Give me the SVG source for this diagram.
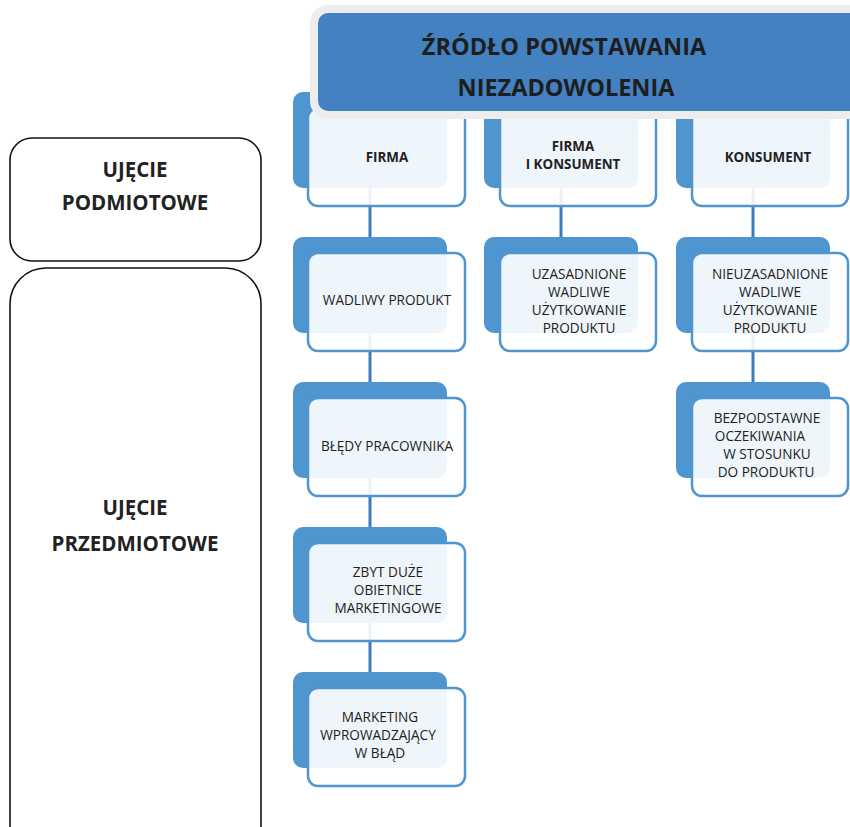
<svg xmlns="http://www.w3.org/2000/svg" width="850" height="827" viewBox="0 0 850 827">
  <style>
    .back { fill: #4F95D0; }
    .front { fill: #FFFFFF; fill-opacity: 0.9; stroke: #4F95D0; stroke-width: 2.5; }
    .link { stroke: #3D7BBA; stroke-width: 3; fill: none; }
    .lbl { font-family: "Open Sans", "Liberation Sans", sans-serif; font-size: 13.6px; fill: #222; text-anchor: middle; }
    .head { font-weight: bold; font-size: 13.4px; }
    .side { fill: #FFFFFF; stroke: #111; stroke-width: 1.6; }
    .sidetxt { font-family: "Open Sans", "Liberation Sans", sans-serif; font-weight: bold; font-size: 20.5px; fill: #222; text-anchor: middle; }
    .title { font-family: "Open Sans", "Liberation Sans", sans-serif; font-weight: bold; font-size: 23.5px; fill: #1E1E1E; text-anchor: middle; }
  </style>
  <defs>
    <rect id="bk" class="back" width="154" height="96" rx="10"/>
  </defs>

  <!-- side category boxes -->
  <g id="podmiotowe">
    <rect class="side" x="10" y="138" width="251" height="123" rx="22"/>
    <text class="sidetxt" x="135" y="177">UJĘCIE</text>
    <text class="sidetxt" x="135" y="210">PODMIOTOWE</text>
  </g>
  <g id="przedmiotowe">
    <rect class="side" x="10" y="268" width="251" height="600" rx="36"/>
    <text class="sidetxt" x="135" y="515">UJĘCIE</text>
    <text class="sidetxt" x="135" y="551">PRZEDMIOTOWE</text>
  </g>

  <!-- back plates of every card -->
  <g id="plates">
    <use href="#bk" x="293" y="92"/>
    <use href="#bk" x="484" y="92"/>
    <use href="#bk" x="676" y="92"/>
    <use href="#bk" x="293" y="237"/>
    <use href="#bk" x="484" y="237"/>
    <use href="#bk" x="676" y="237"/>
    <use href="#bk" x="293" y="382"/>
    <use href="#bk" x="676" y="382"/>
    <use href="#bk" x="293" y="527"/>
    <use href="#bk" x="293" y="672"/>
  </g>

  <!-- connectors -->
  <g id="connectors">
    <line class="link" x1="370" y1="188" x2="370" y2="237"/>
    <line class="link" x1="370" y1="333" x2="370" y2="382"/>
    <line class="link" x1="370" y1="478" x2="370" y2="527"/>
    <line class="link" x1="370" y1="623" x2="370" y2="672"/>
    <line class="link" x1="561" y1="188" x2="561" y2="237"/>
    <line class="link" x1="753" y1="188" x2="753" y2="237"/>
    <line class="link" x1="753" y1="333" x2="753" y2="382"/>
  </g>

  <!-- column 1 -->
  <g id="firma">
    <rect class="front" x="308" y="108" width="157" height="98" rx="10"/>
    <text class="lbl head" x="387" y="162">FIRMA</text>
  </g>
  <g id="wadliwy-produkt">
    <rect class="front" x="308" y="253" width="157" height="98" rx="10"/>
    <text class="lbl" x="387" y="305">WADLIWY PRODUKT</text>
  </g>
  <g id="bledy-pracownika">
    <rect class="front" x="308" y="398" width="157" height="98" rx="10"/>
    <text class="lbl" x="387" y="451">BŁĘDY PRACOWNIKA</text>
  </g>
  <g id="obietnice">
    <rect class="front" x="308" y="543" width="157" height="98" rx="10"/>
    <text class="lbl" x="388" y="577">ZBYT DUŻE</text>
    <text class="lbl" x="388" y="595">OBIETNICE</text>
    <text class="lbl" x="388" y="613">MARKETINGOWE</text>
  </g>
  <g id="marketing">
    <rect class="front" x="308" y="688" width="157" height="98" rx="10"/>
    <text class="lbl" x="380" y="722">MARKETING</text>
    <text class="lbl" x="378" y="740">WPROWADZAJĄCY</text>
    <text class="lbl" x="380" y="758">W BŁĄD</text>
  </g>

  <!-- column 2 -->
  <g id="firma-i-konsument">
    <rect class="front" x="500" y="108" width="156" height="98" rx="10"/>
    <text class="lbl head" x="573" y="151">FIRMA</text>
    <text class="lbl head" x="573" y="169">I KONSUMENT</text>
  </g>
  <g id="uzasadnione">
    <rect class="front" x="500" y="253" width="156" height="98" rx="10"/>
    <text class="lbl" x="579" y="279">UZASADNIONE</text>
    <text class="lbl" x="579" y="297">WADLIWE</text>
    <text class="lbl" x="579" y="315">UŻYTKOWANIE</text>
    <text class="lbl" x="579" y="333">PRODUKTU</text>
  </g>

  <!-- column 3 -->
  <g id="konsument">
    <rect class="front" x="692" y="108" width="156" height="98" rx="10"/>
    <text class="lbl head" x="768" y="162">KONSUMENT</text>
  </g>
  <g id="nieuzasadnione">
    <rect class="front" x="692" y="253" width="156" height="98" rx="10"/>
    <text class="lbl" x="770" y="279">NIEUZASADNIONE</text>
    <text class="lbl" x="770" y="297">WADLIWE</text>
    <text class="lbl" x="770" y="315">UŻYTKOWANIE</text>
    <text class="lbl" x="770" y="333">PRODUKTU</text>
  </g>
  <g id="bezpodstawne">
    <rect class="front" x="692" y="398" width="156" height="98" rx="10"/>
    <text class="lbl" x="767" y="423">BEZPODSTAWNE</text>
    <text class="lbl" x="760" y="441">OCZEKIWANIA</text>
    <text class="lbl" x="767" y="459">W STOSUNKU</text>
    <text class="lbl" x="766" y="477">DO PRODUKTU</text>
  </g>

  <!-- title banner -->
  <g id="title">
    <rect x="314" y="9" width="550" height="106" rx="14" fill="#4481C0" stroke="#EDEDED" stroke-width="8"/>
    <text class="title" x="564" y="55">ŹRÓDŁO POWSTAWANIA</text>
    <text class="title" x="566" y="96">NIEZADOWOLENIA</text>
  </g>
</svg>
